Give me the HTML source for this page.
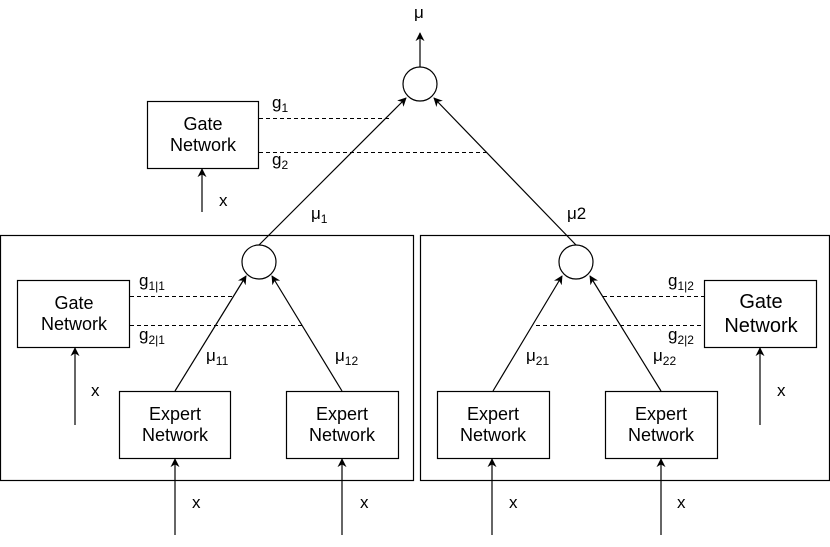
<!DOCTYPE html>
<html><head><style>
html,body{margin:0;padding:0;background:#fff;}
svg{display:block;}
text{font-family:"Liberation Sans",Arial,sans-serif;fill:#000;}
</style></head><body>
<svg width="830" height="547" viewBox="0 0 830 547" xmlns="http://www.w3.org/2000/svg">
<defs>
<marker id="a" viewBox="0 0 10 10" refX="9" refY="5" markerWidth="9" markerHeight="9" markerUnits="userSpaceOnUse" orient="auto">
<path d="M0,0 L10,5 L0,10 L3,5 z" fill="#000"/>
</marker>
</defs>
<g stroke="#000" stroke-width="1.2" fill="none">
<rect x="0.5" y="235.5" width="413" height="245"/>
<rect x="420.5" y="235.5" width="409" height="245"/>
<circle cx="420" cy="84" r="17" fill="#fff"/>
<circle cx="259" cy="262" r="17" fill="#fff"/>
<circle cx="576" cy="262" r="17" fill="#fff"/>
<rect x="147.5" y="101.5" width="111" height="67"/>
<rect x="17.5" y="280.5" width="112" height="67"/>
<rect x="119.5" y="391.5" width="111" height="67"/>
<rect x="286.5" y="391.5" width="112" height="67"/>
<rect x="437.5" y="391.5" width="112" height="67"/>
<rect x="605.5" y="391.5" width="112" height="67"/>
<rect x="704.5" y="280.5" width="112" height="67"/>
</g>
<g stroke="#000" stroke-width="1.2" marker-end="url(#a)">
<line x1="420" y1="67" x2="420" y2="33"/>
<line x1="259" y1="245" x2="406" y2="98"/>
<line x1="576" y1="245" x2="434" y2="98"/>
<line x1="202" y1="212" x2="202" y2="169"/>
<line x1="175" y1="391" x2="246" y2="276"/>
<line x1="342" y1="391" x2="272" y2="276"/>
<line x1="493" y1="391" x2="562" y2="276"/>
<line x1="661" y1="391" x2="590" y2="276"/>
<line x1="75" y1="425" x2="75" y2="348"/>
<line x1="760" y1="425" x2="760" y2="348"/>
<line x1="175" y1="535" x2="175" y2="459"/>
<line x1="342" y1="535" x2="342" y2="459"/>
<line x1="492" y1="535" x2="492" y2="459"/>
<line x1="661" y1="535" x2="661" y2="459"/>
</g>
<g stroke="#000" stroke-width="1" stroke-dasharray="4,3">
<line x1="259" y1="118.5" x2="390" y2="118.5"/>
<line x1="259" y1="152.5" x2="490" y2="152.5"/>
<line x1="130" y1="296.5" x2="233" y2="296.5"/>
<line x1="130" y1="325.5" x2="303" y2="325.5"/>
<line x1="603" y1="296.5" x2="704" y2="296.5"/>
<line x1="536" y1="325.5" x2="704" y2="325.5"/>
</g>
<g font-size="18" text-anchor="middle">
<text x="203" y="130">Gate</text><text x="203" y="151">Network</text>
<text x="74" y="309">Gate</text><text x="74" y="330">Network</text>
<text x="175" y="420">Expert</text><text x="175" y="441">Network</text>
<text x="342" y="420">Expert</text><text x="342" y="441">Network</text>
<text x="493" y="420">Expert</text><text x="493" y="441">Network</text>
<text x="661" y="420">Expert</text><text x="661" y="441">Network</text>
</g>
<text x="761" y="332" font-size="20" text-anchor="middle">Network</text>
<text x="761" y="308" font-size="20" text-anchor="middle">Gate</text>
<g font-size="17">
<text x="414" y="18">μ</text>
<text x="219" y="206">x</text>
<text x="91" y="396">x</text>
<text x="777" y="396">x</text>
<text x="192" y="508">x</text>
<text x="360" y="508">x</text>
<text x="509" y="508">x</text>
<text x="677" y="508">x</text>
<text x="272" y="108">g<tspan font-size="12" dy="4">1</tspan></text>
<text x="272" y="165">g<tspan font-size="12" dy="4">2</tspan></text>
<text x="311" y="219">μ<tspan font-size="12" dy="4">1</tspan></text>
<text x="567" y="219">μ2</text>
<text x="139" y="286">g<tspan font-size="12" dy="4">1|1</tspan></text>
<text x="139" y="340">g<tspan font-size="12" dy="4">2|1</tspan></text>
<text x="206" y="361">μ<tspan font-size="12" dy="4">11</tspan></text>
<text x="335" y="361">μ<tspan font-size="12" dy="4">12</tspan></text>
<text x="526" y="361">μ<tspan font-size="12" dy="4">21</tspan></text>
<text x="653" y="361">μ<tspan font-size="12" dy="4">22</tspan></text>
<text x="668" y="286">g<tspan font-size="12" dy="4">1|2</tspan></text>
<text x="668" y="340">g<tspan font-size="12" dy="4">2|2</tspan></text>
</g>
</svg>
</body></html>
